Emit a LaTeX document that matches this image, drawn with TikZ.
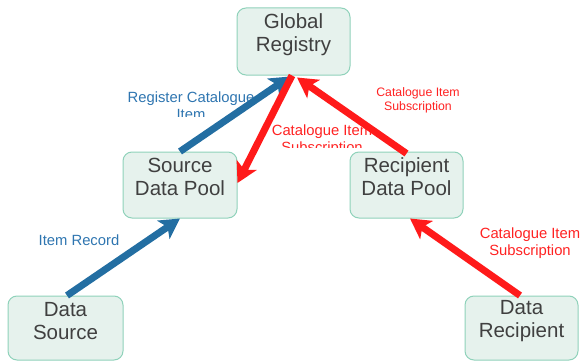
\documentclass[tikz,border=0pt]{standalone}
\usepackage{fontspec}
\setmainfont{Liberation Sans}
\usetikzlibrary{arrows.meta}
\definecolor{boxfill}{HTML}{E6F2ED}
\definecolor{boxline}{HTML}{8FD2BA}
\definecolor{boxtxt}{HTML}{404040}
\definecolor{bluearr}{HTML}{236EA2}
\definecolor{bluetxt}{HTML}{2E75B0}
\definecolor{redarr}{HTML}{FF1A1A}
\definecolor{redtxt}{HTML}{FF2222}
\tikzset{
  box/.style={draw=boxline, fill=boxfill, line width=1pt, rounded corners=9pt, inner sep=0pt},
  boxtext/.style={text=boxtxt, align=center, inner sep=0pt, font=\fontsize{20.5}{23}\selectfont},
  lbl/.style={align=center, inner sep=0pt, font=\fontsize{14.8}{17}\selectfont},
  smalllbl/.style={align=center, inner sep=0pt, font=\fontsize{12.3}{14}\selectfont},
  bluearrow/.style={draw=bluearr, line width=7pt, -{Stealth[length=20pt,width=22pt,inset=5pt]}},
  redarrow/.style={draw=redarr, line width=7pt, -{Stealth[length=20pt,width=22pt,inset=5pt]}},
}
\begin{document}
\begin{tikzpicture}[x=1pt,y=-1pt]
\useasboundingbox (0,0) rectangle (583,361);
% boxes
\node[box, minimum width=113pt, minimum height=67pt] (gr) at (293.5,41.5) {};
\node[box, minimum width=114pt, minimum height=66pt] (sdp) at (180,185) {};
\node[box, minimum width=113pt, minimum height=66pt] (rdp) at (406.5,185) {};
\node[box, minimum width=115pt, minimum height=64pt] (ds) at (65.5,328) {};
\node[box, minimum width=113pt, minimum height=64pt] (dr) at (521.5,328) {};
\node[boxtext] (grt) at ([yshift=7pt]gr.center) {Global\\Registry};
\node[boxtext] (sdpt) at ([yshift=8pt]sdp.center) {Source\\Data Pool};
\node[boxtext] (rdpt) at ([yshift=8pt]rdp.center) {Recipient\\Data Pool};
\node[boxtext] (dst) at ([yshift=6.5pt]ds.center) {Data\\Source};
\node[boxtext] (drt) at ([yshift=6.5pt]dr.center) {Data\\Recipient};
% labels (clipped as in the picture)
\begin{scope}
\clip (100,80) rectangle (290,116.5);
\node[lbl, text=bluetxt] (l1) at (191,106) {Register Catalogue\\Item};
\end{scope}
\begin{scope}
\clip (250,115) rectangle (400,147);
\node[lbl, text=redtxt] (l2) at (322,140.6) {Catalogue Item\\Subscription};
\end{scope}
\node[smalllbl, text=redtxt] (l3) at (418,100) {Catalogue Item\\Subscription};
\node[lbl, text=bluetxt] (l4) at (79,240) {Item Record};
\node[lbl, text=redtxt] (l5) at (530,243) {Catalogue Item\\Subscription};
% connectors
\draw[bluearrow] ([xshift=1.5pt]ds.north) -- (sdp.south);
\draw[bluearrow] (sdp.north) -- ([xshift=-3.5pt,yshift=-1pt]gr.south);
\draw[redarrow] ([xshift=-1.5pt]gr.south) -- ([yshift=2pt]sdp.east);
\draw[redarrow] ([yshift=-2pt]rdp.north) -- ([xshift=3.5pt,yshift=-2pt]gr.south);
\draw[redarrow] ([xshift=-1.5pt]dr.north) -- ([xshift=3.5pt]rdp.south);
\end{tikzpicture}
\end{document}
